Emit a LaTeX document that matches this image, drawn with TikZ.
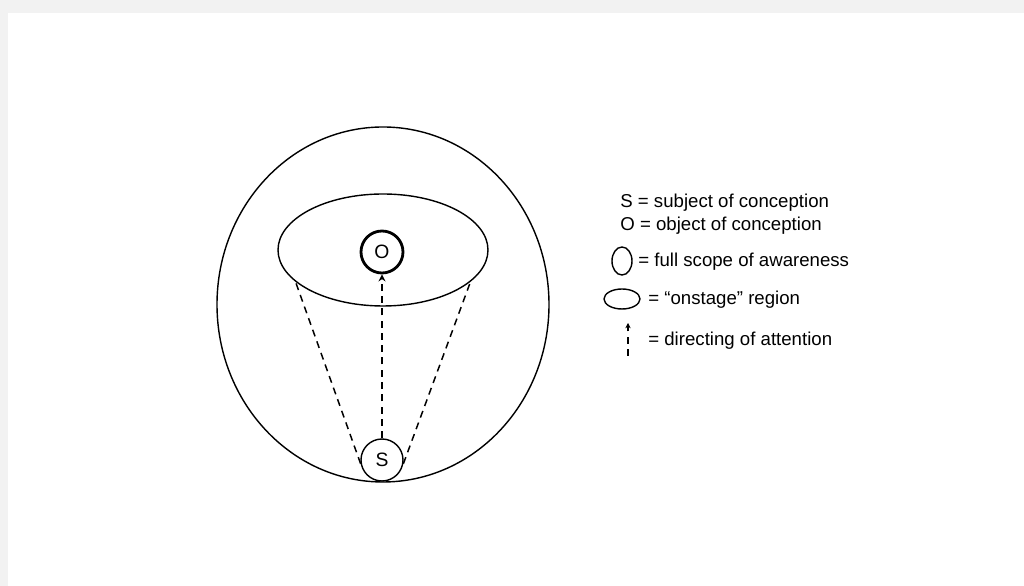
\documentclass[tikz,border=0pt]{standalone}
\usepackage{fontspec}
\setmainfont{Liberation Sans}
\usetikzlibrary{arrows.meta, shapes.geometric}

\begin{document}
\begin{tikzpicture}[
    region/.style={draw, ellipse, line width=0.8pt, inner sep=0pt},
    mind/.style={draw, circle, line width=0.8pt, minimum size=0.84cm, inner sep=0pt, fill=white,
        font=\fontsize{11}{13}\selectfont},
    attention/.style={dash pattern=on 4pt off 3pt, line width=0.85pt},
    legend/.style={anchor=west, inner sep=0pt, font=\fontsize{10.6}{12}\selectfont}
    ]
    % \clip (0,0) rectangle (20.48,11.72);
    \useasboundingbox (0,0) rectangle (20.48,11.72);
    \fill[gray!10] (0,11.46) rectangle (20.48,11.72);
    \fill[gray!10] (0,0) rectangle (0.16,11.46);

    \node[region, minimum width=6.64cm, minimum height=7.1cm] (scope) at (7.66,5.63) {};
    \node[region, minimum width=4.2cm, minimum height=2.24cm] (stage) at (7.66,6.72) {};
    \node[mind, line width=1.6pt] (O) at (7.64,6.68) {O};
    \node[mind] (S) at (7.64,2.52) {S};
    \draw[attention] (S.190) -- (stage.200);
    \draw[attention] (S.-10) -- (stage.-20);
    \draw[attention, -{Stealth[length=4pt, width=4pt]}] (S) -- (O);

    % legend
    \node[legend] (keyS) at (12.4,7.67) {S = subject of conception};
    \node[legend] (keyO) at (12.4,7.21) {O = object of conception};
    \node[region, minimum width=0.4cm, minimum height=0.56cm] (iconscope) at (12.44,6.5) {};
    \node[legend] (keyscope) at (12.76,6.48) {= full scope of awareness};
    \node[region, minimum width=0.72cm, minimum height=0.4cm] (iconstage) at (12.44,5.74) {};
    \node[legend] (keystage) at (12.96,5.72) {= “onstage” region};
    \coordinate (tail) at (12.56,4.6);
    \coordinate (head) at (12.56,5.26);
    \draw[attention, -{Stealth[length=3pt, width=3pt]}] (tail) -- (head);
    \node[legend] (keyattention) at (12.96,4.9) {= directing of attention};
\end{tikzpicture}
\end{document}
